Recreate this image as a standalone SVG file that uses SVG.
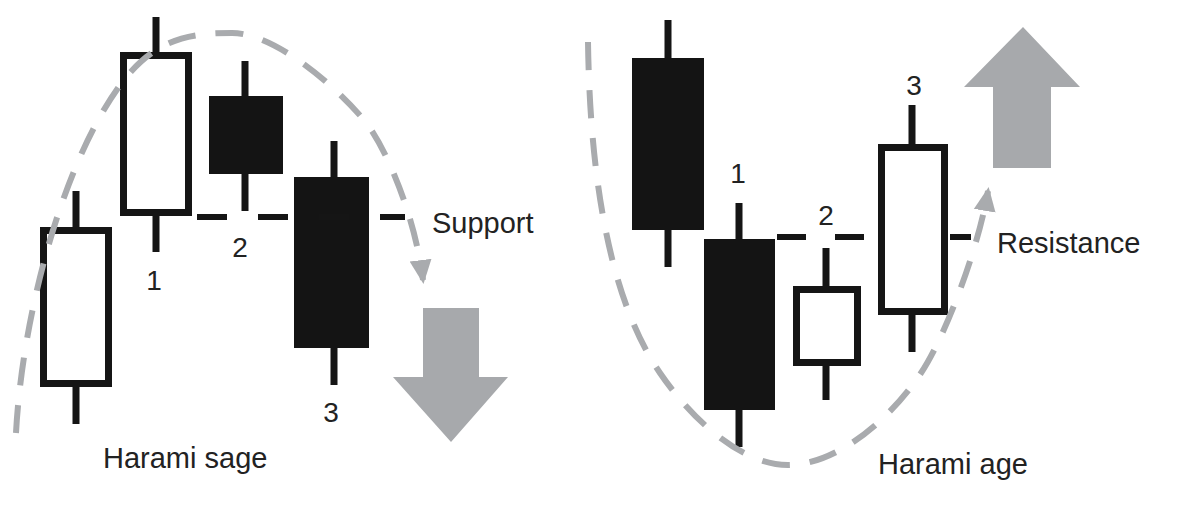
<svg xmlns="http://www.w3.org/2000/svg" width="1181" height="516" viewBox="0 0 1181 516">
<defs>
<style>
.wick{stroke:#151515;stroke-width:7;fill:none}
.wbody{fill:#fff;stroke:#151515;stroke-width:7}
.bbody{fill:#141414;stroke:none}
.lvl{stroke:#151515;stroke-width:6;fill:none;stroke-dasharray:30 28}
.arc{stroke:#a9abae;stroke-width:6;fill:none;stroke-dasharray:28 20}
.big{fill:#a7a9ac}
.lbl{font-family:"Liberation Sans",Arial,sans-serif;font-size:29px;fill:#222}
.num{text-anchor:middle;font-size:28px}
</style>
<marker id="ah" markerUnits="userSpaceOnUse" markerWidth="26" markerHeight="26" viewBox="0 0 26 26" refX="20" refY="13" orient="auto">
<path d="M0,2 L24,13 L0,24 Z" fill="#a9abae"/>
</marker>
</defs>
<rect width="1181" height="516" fill="#fff"/>

<g id="candle-a">
<line class="wick" x1="76" y1="191" x2="76" y2="424"/>
<rect class="wbody" x="43.5" y="230.5" width="65" height="153"/>
</g>
<g id="candle-b">
<line class="wick" x1="156" y1="17" x2="156" y2="252"/>
<rect class="wbody" x="123.5" y="55.5" width="65" height="157"/>
</g>
<g id="candle-c">
<line class="wick" x1="245" y1="61" x2="245" y2="211"/>
<rect class="bbody" x="209" y="96" width="74" height="78"/>
</g>
<g id="candle-d">
<line class="wick" x1="334" y1="141" x2="334" y2="385"/>
<rect class="bbody" x="294" y="177" width="75" height="171"/>
</g>

<g id="candle-e">
<line class="wick" x1="668" y1="20" x2="668" y2="267"/>
<rect class="bbody" x="632" y="58" width="72" height="172"/>
</g>
<g id="candle-f">
<line class="wick" x1="739" y1="203" x2="739" y2="447"/>
<rect class="bbody" x="704" y="239" width="71" height="171"/>
</g>
<g id="candle-g">
<line class="wick" x1="826" y1="248" x2="826" y2="400"/>
<rect class="wbody" x="796.5" y="289.5" width="61" height="73"/>
</g>
<g id="candle-h">
<line class="wick" x1="912" y1="105" x2="912" y2="352"/>
<rect class="wbody" x="881.5" y="147.5" width="63" height="164"/>
</g>

<g id="connectors">
<line class="lvl" x1="197" y1="217" x2="405" y2="217" style="stroke-dasharray:30 31"/>
<line class="lvl" x1="777" y1="237" x2="971" y2="237" style="stroke-dasharray:29 29 29 86"/>
<path class="arc" d="M16,433 C22,320 60,170 118,88 C153,38 190,33 232,33 C272,33 330,80 364,120 C385,145 415,215 423,280" marker-end="url(#ah)"/>
<path class="arc" d="M588,42 C590,180 610,300 660,373 C690,417 740,465 788,465 C836,465 890,420 921,373 C945,337 978,250 988,191" marker-end="url(#ah)"/>
</g>

<g id="arrow-down">
<polygon class="big" points="423,308 479,308 479,377 508,377 451,442 393,377 423,377"/>
</g>
<g id="arrow-up">
<polygon class="big" points="993,168 1051,168 1051,87 1080,87 1023,27 964,87 993,87"/>
</g>

<g id="labels">
<text class="lbl num" x="154" y="290">1</text>
<text class="lbl num" x="240" y="257">2</text>
<text class="lbl num" x="331" y="422">3</text>
<text class="lbl" x="432" y="233">Support</text>
<text class="lbl" x="103" y="468">Harami sage</text>
<text class="lbl num" x="738" y="183">1</text>
<text class="lbl num" x="826" y="225">2</text>
<text class="lbl num" x="914" y="95">3</text>
<text class="lbl" x="997" y="253">Resistance</text>
<text class="lbl" x="878" y="474">Harami age</text>
</g>
</svg>
